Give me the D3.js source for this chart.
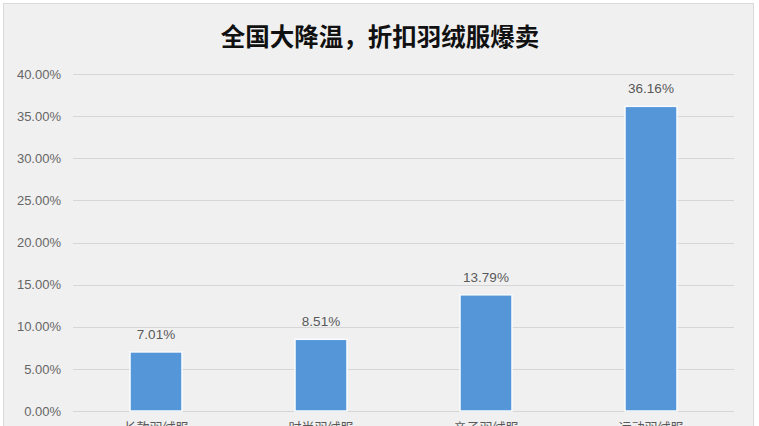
<!DOCTYPE html>
<html><head><meta charset="utf-8">
<script src="https://cdn.jsdelivr.net/npm/d3@7/dist/d3.min.js"></script>
<style>
html,body{margin:0;padding:0;background:#fff;}
svg{display:block;}
</style></head>
<body>
<script>
const categories = ["长款羽绒服", "时尚羽绒服", "亲子羽绒服", "运动羽绒服"];
const values = [0.0701, 0.0851, 0.1379, 0.3616];
const valueLabels = ["7.01%", "8.51%", "13.79%", "36.16%"];
const yTicks = [0, 0.05, 0.10, 0.15, 0.20, 0.25, 0.30, 0.35, 0.40];
const title = "全国大降温，折扣羽绒服爆卖";

const W = 759, H = 426;
const svg = d3.select("body").append("svg").attr("width", W).attr("height", H);

svg.append("rect").attr("x", 3.5).attr("y", 3.5).attr("width", 750).attr("height", 440)
  .attr("fill", "#f0f0f0").attr("stroke", "#d9d9d9").attr("stroke-width", 1);

svg.append("text").attr("x", 380).attr("y", 46).attr("text-anchor", "middle")
  .attr("font-family", "'Noto Sans CJK SC', sans-serif").attr("font-weight", "bold")
  .attr("font-size", 24.5).attr("fill", "#111").text(title);

const x = d3.scaleBand().domain(categories).range([73.5, 733.5]).paddingInner(0.685).paddingOuter(0.3425);
const y = d3.scaleLinear().domain([0, 0.40]).range([411, 74]);

const grid = svg.append("g");
grid.selectAll("line").data(yTicks).join("line")
  .attr("x1", 73).attr("x2", 734)
  .attr("y1", d => Math.round(y(d)) + 0.5).attr("y2", d => Math.round(y(d)) + 0.5)
  .attr("stroke", "#d6d6d6").attr("stroke-width", 1);

const yAxis = d3.axisLeft(y).tickValues(yTicks).tickFormat(d3.format(".2%")).tickSize(0).tickPadding(0);
const ya = svg.append("g").attr("transform", "translate(61,0)").call(yAxis);
ya.select(".domain").remove();
ya.selectAll("text").attr("font-family", "'Liberation Sans', Arial, sans-serif")
  .attr("font-size", 13).attr("fill", "#666");

svg.append("g").selectAll("rect").data(values).join("rect")
  .attr("x", (d, i) => x(categories[i]))
  .attr("width", x.bandwidth())
  .attr("y", d => y(d))
  .attr("height", d => y(0) - y(d))
  .attr("fill", "#5596d8")
  .attr("stroke", "#f8fbfe").attr("stroke-width", 1.5);

svg.append("g").selectAll("text").data(values).join("text")
  .attr("x", (d, i) => x(categories[i]) + x.bandwidth() / 2)
  .attr("y", d => y(d) - 13)
  .attr("text-anchor", "middle")
  .attr("font-family", "'Liberation Sans', Arial, sans-serif")
  .attr("font-size", 13.5).attr("fill", "#595959")
  .text((d, i) => valueLabels[i]);

const xAxis = d3.axisBottom(x).tickSize(0).tickPadding(12);
const xa = svg.append("g").attr("transform", `translate(0,${y(0)})`).call(xAxis);
xa.select(".domain").remove();
xa.selectAll("text").attr("font-family", "'Noto Sans CJK SC', sans-serif")
  .attr("font-size", 13).attr("fill", "#595959");
</script>
</body></html>
